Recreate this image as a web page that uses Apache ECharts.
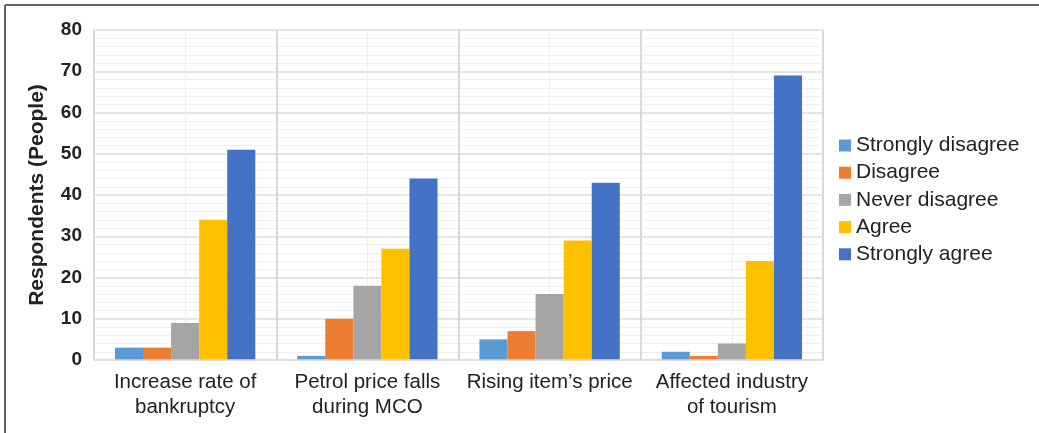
<!DOCTYPE html>
<html>
<head>
<meta charset="utf-8">
<script src="https://cdn.jsdelivr.net/npm/echarts@6/dist/echarts.min.js"></script>
<style>
	html, body { margin: 0; padding: 0; background: #fff; }
	#chart { width: 1039px; height: 433px; }
</style>
</head>
<body>
<div id="chart"></div>
<script>
const categories = [
	"Increase rate of\nbankruptcy",
	"Petrol price falls\nduring MCO",
	"Rising item\u2019s price",
	"Affected industry\nof tourism"
];
const seriesNames = ["Strongly disagree", "Disagree", "Never disagree", "Agree", "Strongly agree"];
const stronglyDisagree = [3, 1, 5, 2];
const disagree = [3, 10, 7, 1];
const neverDisagree = [9, 18, 16, 4];
const agree = [34, 27, 29, 24];
const stronglyAgree = [51, 44, 43, 69];
const yTicks = [0, 10, 20, 30, 40, 50, 60, 70, 80];

const colors = ["#5b9bd5", "#ed7d31", "#a5a5a5", "#ffc000", "#4472c4"];
const font = "'Liberation Sans', Arial, sans-serif";
const values = [stronglyDisagree, disagree, neverDisagree, agree, stronglyAgree];

const myChart = echarts.init(document.getElementById("chart"));

const option = {
	animation: false,
	textStyle: { fontFamily: font },
	color: colors,
	// frame: only top and left edges are visible
	graphic: [
		{ type: "line", shape: { x1: 5, y1: 5, x2: 1039, y2: 5 }, style: { stroke: "#666", lineWidth: 2 } },
		{ type: "line", shape: { x1: 5, y1: 5, x2: 5, y2: 433 }, style: { stroke: "#666", lineWidth: 2 } }
	],
	grid: { left: 94, right: 216, top: 30, bottom: 73 },
	legend: {
		orient: "vertical",
		left: 839,
		top: 135,
		padding: 0,
		itemWidth: 12,
		itemHeight: 12,
		itemGap: 6.2,
		itemStyle: { borderWidth: 0 },
		textStyle: { fontSize: 21, color: "#222", fontFamily: font, lineHeight: 20 },
		icon: "rect",
		data: seriesNames
	},
	xAxis: [
		{
			type: "category",
			data: categories,
			axisLine: { lineStyle: { color: "#d9d9d9", width: 1.5 } },
			axisTick: { show: false },
			axisLabel: { fontSize: 20.5, color: "#222", lineHeight: 25, margin: 10, interval: 0 },
			splitLine: { show: true, lineStyle: { color: "#d9d9d9", width: 2 } },
			z: 3
		},
		{
			// light lines through the middle of each category
			type: "value",
			min: 0,
			max: 8,
			interval: 1,
			axisLine: { show: false },
			axisTick: { show: false },
			axisLabel: { show: false },
			splitLine: { show: true, lineStyle: { color: "#eeeeee", width: 1 } }
		}
	],
	yAxis: {
		type: "value",
		min: yTicks[0],
		max: yTicks[yTicks.length - 1],
		interval: 10,
		name: "Respondents (People)",
		nameLocation: "middle",
		nameGap: 46,
		nameTextStyle: { fontSize: 21, fontWeight: "bold", color: "#222" },
		axisLine: { show: false },
		axisTick: { show: false },
		axisLabel: { fontSize: 19, fontWeight: "bold", color: "#222", margin: 12 },
		splitLine: { lineStyle: { color: "#dcdcdc", width: 1.5 } },
		minorTick: { show: false, splitNumber: 5 },
		minorSplitLine: { show: true, lineStyle: { color: "#efefef", width: 1 } }
	},
	series: seriesNames.map((name, i) => ({
		name: name,
		type: "bar",
		xAxisIndex: 0,
		data: values[i],
		barGap: "0%",
		barCategoryGap: "23%",
		itemStyle: { color: colors[i] }
	}))
};

option && myChart.setOption(option);
</script>
</body>
</html>
